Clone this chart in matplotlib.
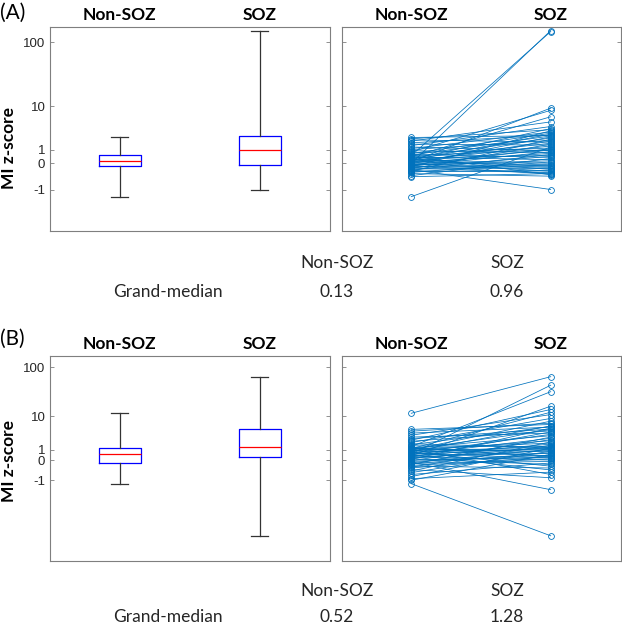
import numpy as np
import matplotlib
matplotlib.use("Agg")
import matplotlib.pyplot as plt

# shift used for the log-like y axis: y = log10(z + C)
C = 1.7

groups = ["Non-SOZ", "SOZ"]
yticks = [-1, 0, 1, 10, 100]

# box stats: (whislo, q1, med, q3, whishi)
box_a = {"Non-SOZ": (-1.15, -0.17, 0.13, 0.53, 2.37),
         "SOZ": (-1.0, -0.1, 0.96, 2.6, 148.7)}
box_b = {"Non-SOZ": (-1.11, -0.19, 0.52, 1.16, 11.75),
         "SOZ": (-1.64, 0.27, 1.28, 4.94, 66.0)}

grand_median_a = ["0.13", "0.96"]
grand_median_b = ["0.52", "1.28"]

# paired channel values (panel A)
nonsoz_a = [-1.15, -0.62, -0.58, -0.5, -0.45, -0.42, -0.4, -0.38, -0.35, -0.33,
            -0.3, -0.28, -0.25, -0.23, -0.21, -0.19, -0.17, -0.15, -0.12, -0.1,
            -0.08, -0.05, -0.03, 0.0, 0.02, 0.04, 0.06, 0.08, 0.1, 0.12,
            0.14, 0.16, 0.19, 0.22, 0.25, 0.28, 0.3, 0.33, 0.36, 0.4,
            0.43, 0.46, 0.49, 0.51, 0.55, 0.6, 0.66, 0.72, 0.8, 0.9,
            1.0, 1.1, 1.25, 1.4, 1.55, 1.7, 1.9, 2.05, 2.2, 2.37]
soz_a = [1.25, -0.5, 0.3, -0.6, 0.08, -0.36, 2.15, -0.44, 0.6, -1.0,
         -0.24, 1.55, -0.47, 0.45, -0.12, 3.4, -0.28, 0.82, -0.52, 1.08,
         0.15, -0.2, 2.45, 150, -0.4, 0.68, 1.9, -0.08, 9.3, 0.95,
         -0.16, 1.35, 2.85, 0.0, 3.8, -0.32, 1.65, 0.52, 2.3, 0.22,
         6.5, -0.55, 1.0, 145, 2.58, 0.38, 3.0, 1.15, 8.5, 0.75,
         2.0, 3.2, 0.9, 4.2, 1.45, 2.7, 5.2, 1.78, 3.6, 2.65]

# paired channel values (panel B)
nonsoz_b = [-1.1, -1.0, -0.95, -0.88, -0.8, -0.72, -0.65, -0.58, -0.5, -0.45,
            -0.4, -0.35, -0.3, -0.26, -0.22, -0.19, -0.15, -0.1, -0.05, 0.0,
            0.05, 0.1, 0.15, 0.2, 0.24, 0.28, 0.32, 0.36, 0.4, 0.44,
            0.48, 0.5, 0.54, 0.58, 0.62, 0.67, 0.72, 0.77, 0.82, 0.87,
            0.92, 0.97, 1.0, 1.03, 1.06, 1.09, 1.12, 1.15, 1.2, 1.3,
            1.4, 1.5, 1.65, 1.8, 2.0, 2.2, 2.4, 2.7, 3.0, 3.4,
            3.9, 4.4, 4.9, 11.75]
soz_b = [-1.64, 0.5, -0.7, 1.2, -0.2, 0.82, 2.1, -0.92, 0.3, 1.6,
         -0.5, 0.08, 3.0, 0.66, -0.1, 1.05, -1.24, 0.42, 2.5, 0.2,
         5.3, -0.3, 1.28, 0.9, 4.2, 0.0, 1.75, 16.7, 0.58, -0.6,
         2.75, 1.15, 44.8, 0.15, 3.6, 1.45, -0.4, 6.0, 0.98, 2.3,
         0.36, 7.8, 1.1, 4.85, -0.8, 1.9, 12.4, 0.74, 3.3, 0.25,
         33.2, 1.32, 5.8, 1.25, 9.0, 4.5, 14.2, 5.0, 3.9, 11.0,
         5.6, 7.0, 6.5, 66.0]


def fwd(x):
    return np.log10(np.maximum(np.asarray(x, dtype=float) + C, 1e-6))


def inv(y):
    return 10 ** np.asarray(y, dtype=float) - C


W, H = 622, 627
fig = plt.figure(figsize=(W / 100, H / 100), dpi=100)
FRAME = "#7f7f7f"
TXT = "#262626"
BLUE = "#0072BD"


def px_axes(x0, y0, x1, y1):
    return fig.add_axes([x0 / W, 1 - y1 / H, (x1 - x0) / W, (y1 - y0) / H])


def style(ax, ylim, labels):
    ax.set_yscale("function", functions=(fwd, inv))
    ax.set_ylim(*ylim)
    ax.set_xlim(0.5, 2.5)
    ax.set_yticks(yticks)
    ax.set_yticks([], minor=True)
    if labels:
        ax.set_yticklabels([str(t) for t in yticks], fontsize=9.5,
                           family="Liberation Sans", color=TXT)
    else:
        ax.set_yticklabels([])
    ax.tick_params(axis="y", direction="in", length=3, width=0.6,
                   color=FRAME, right=True, pad=3)
    ax.set_xticks([])
    for s in ax.spines.values():
        s.set_color(FRAME)
        s.set_linewidth(0.8)
    for i, g in enumerate(groups):
        ax.text(i + 1, 1.057, g, transform=ax.get_xaxis_transform(),
                ha="center", va="center", fontsize=12.5, fontweight="bold",
                family="Lato", color="black")


def draw_box(ax, stats):
    bx = []
    for g in groups:
        lo, q1, med, q3, hi = stats[g]
        bx.append(dict(whislo=lo, q1=q1, med=med, q3=q3, whishi=hi, fliers=[]))
    ax.bxp(bx, positions=[1, 2], widths=0.3, showfliers=False,
           boxprops=dict(color="blue", linewidth=0.9),
           medianprops=dict(color="red", linewidth=0.9),
           whiskerprops=dict(color="#333333", linewidth=0.9),
           capprops=dict(color="#333333", linewidth=0.9),
           capwidths=0.125, manage_ticks=False)


def draw_pairs(ax, a, b):
    for u, v in zip(a, b):
        ax.plot([1, 2], [u, v], color=BLUE, linewidth=0.55, marker="o",
                markersize=4.2, markerfacecolor="none", markeredgewidth=0.6)


panels = [
    (26.7, 230.5, (-1.525, 171), box_a, nonsoz_a, soz_a, grand_median_a,
     "(A)", 13, 148, 263, 292.5),
    (356, 560.7, (-1.68, 167), box_b, nonsoz_b, soz_b, grand_median_b,
     "(B)", 339, 461, 591, 617.5),
]

for (top, bot, ylim, box, a, b, gm, tag, tag_y, lab_y, hdr_y, val_y) in panels:
    ax1 = px_axes(49.5, top, 329.5, bot)
    style(ax1, ylim, True)
    draw_box(ax1, box)
    ax2 = px_axes(341.5, top, 620.5, bot)
    style(ax2, ylim, False)
    draw_pairs(ax2, a, b)

    fig.text(0 / W, 1 - tag_y / H, tag, ha="left", va="center",
             fontsize=15, family="Lato", color="black")
    fig.text(9 / W, 1 - lab_y / H, "MI z-score", rotation=90, ha="center",
             va="center", fontsize=12.5, fontweight="bold", family="Lato")
    fig.text(337 / W, 1 - hdr_y / H, groups[0], ha="center", va="center",
             fontsize=12.5, family="Lato", color=TXT)
    fig.text(507 / W, 1 - hdr_y / H, groups[1], ha="center", va="center",
             fontsize=12.5, family="Lato", color=TXT)
    fig.text(168 / W, 1 - val_y / H, "Grand-median", ha="center", va="center",
             fontsize=12.5, family="Lato", color=TXT)
    fig.text(337 / W, 1 - val_y / H, gm[0], ha="center", va="center",
             fontsize=12.5, family="Lato", color=TXT)
    fig.text(507 / W, 1 - val_y / H, gm[1], ha="center", va="center",
             fontsize=12.5, family="Lato", color=TXT)

fig.savefig("out.png", dpi=100)
